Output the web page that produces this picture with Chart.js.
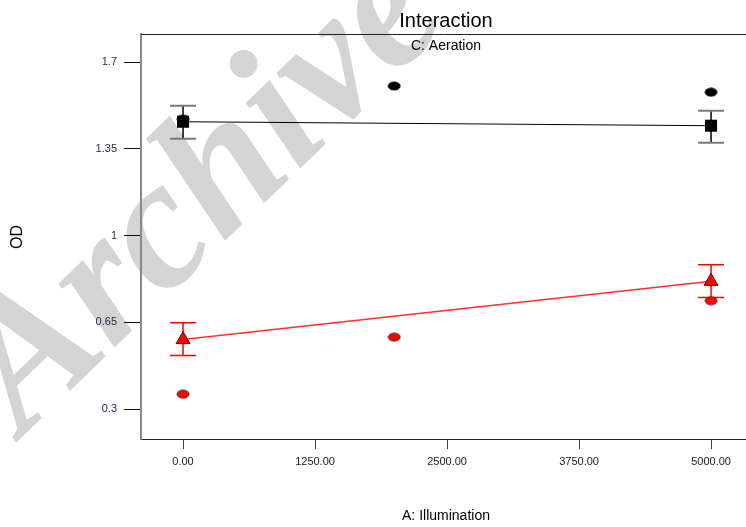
<!DOCTYPE html>
<html>
<head>
<meta charset="utf-8">
<script src="https://cdn.jsdelivr.net/npm/chart.js@4.4.1/dist/chart.umd.min.js"></script>
<style>
  html, body { margin: 0; padding: 0; background: #fff; }
  #wrap { width: 746px; height: 527px; position: relative; }
</style>
</head>
<body>
<div id="wrap"><canvas id="grafico"></canvas></div>
<script>
// tick values
const xTicks = [0, 1250, 2500, 3750, 5000];
const yTicks = [0.3, 0.65, 1, 1.35, 1.7];

// predicted means with intervals (A: Illumination at two levels)
const illum = [0, 5000];
const altaMedia = [1.459, 1.443];
const altaBajo = [1.390, 1.374];
const altaAlto = [1.524, 1.503];
const bajaMedia = [0.580, 0.815];
const bajaBajo = [0.516, 0.750];
const bajaAlto = [0.648, 0.882];

// observed design points
const disenoX = [0, 2000, 5000];
const altaObs = [1.47, 1.603, 1.578];
const bajaObs = [0.360, 0.590, 0.737];

function puntoElipse(relleno, borde) {
  const c = document.createElement('canvas');
  c.width = 14; c.height = 10;
  const g = c.getContext('2d');
  g.beginPath();
  g.ellipse(7, 5, 6, 4, 0, 0, Math.PI * 2);
  g.fillStyle = relleno;
  g.fill();
  g.lineWidth = 1;
  g.strokeStyle = borde;
  g.stroke();
  return c;
}

const pares = (xs, ys) => xs.map((x, i) => ({x: x, y: ys[i]}));

// watermark, titles and frame
const decoracion = {
  id: 'decoracion',
  beforeDraw(chart) {
    const ctx = chart.ctx;
    ctx.save();
    ctx.translate(23, 436);
    ctx.rotate(-44 * Math.PI / 180);
    ctx.font = 'bold italic 185px "Liberation Serif"';
    ctx.fillStyle = '#d4d4d4';
    ctx.textBaseline = 'alphabetic';
    ctx.fillText('Archive', 0, 0);
    ctx.restore();
  },
  afterDraw(chart) {
    const ctx = chart.ctx;
    const a = chart.chartArea;
    ctx.save();
    ctx.strokeStyle = '#222';
    ctx.lineWidth = 1;
    ctx.beginPath();
    ctx.moveTo(a.left, a.top + 0.5);
    ctx.lineTo(a.right, a.top + 0.5);
    ctx.stroke();

    ctx.fillStyle = '#000';
    ctx.textAlign = 'center';
    ctx.textBaseline = 'middle';
    ctx.font = '20px "Liberation Sans"';
    ctx.fillText('Interaction', 446, 21);
    ctx.font = '14px "Liberation Sans"';
    ctx.fillText('C: Aeration', 446, 46);
    ctx.fillText('A: Illumination', 446, 516);

    ctx.translate(18, 237);
    ctx.rotate(-Math.PI / 2);
    ctx.font = '16px "Liberation Sans"';
    ctx.fillText('OD', 0, 0);
    ctx.restore();
  }
};

// error bars from the interval arrays
const barrasError = {
  id: 'barrasError',
  beforeDatasetsDraw(chart) {
    const ctx = chart.ctx;
    const sx = chart.scales.x, sy = chart.scales.y;
    const dibujar = (bajo, alto, colorTallo, colorTope, anchoTope) => {
      illum.forEach((v, i) => {
        const px = sx.getPixelForValue(v);
        const y1 = sy.getPixelForValue(bajo[i]);
        const y2 = sy.getPixelForValue(alto[i]);
        ctx.strokeStyle = colorTallo;
        ctx.lineWidth = 1.5;
        ctx.beginPath();
        ctx.moveTo(px, y1); ctx.lineTo(px, y2);
        ctx.stroke();
        ctx.strokeStyle = colorTope;
        ctx.lineWidth = anchoTope;
        ctx.beginPath();
        ctx.moveTo(px - 13, y1); ctx.lineTo(px + 13, y1);
        ctx.moveTo(px - 13, y2); ctx.lineTo(px + 13, y2);
        ctx.stroke();
      });
    };
    ctx.save();
    dibujar(altaBajo, altaAlto, '#000', '#7a7a7a', 2);
    dibujar(bajaBajo, bajaAlto, '#ff0000', '#ff0000', 1.5);
    ctx.restore();
  }
};

new Chart(document.getElementById('grafico'), {
  type: 'scatter',
  data: {
    datasets: [
      {
        label: 'C+',
        type: 'line',
        data: pares(illum, altaMedia),
        borderColor: '#000',
        borderWidth: 1,
        pointStyle: 'rect',
        pointRadius: 8.5,
        pointBackgroundColor: '#000',
        pointBorderColor: '#000',
        pointBorderWidth: 0
      },
      {
        label: 'C-',
        type: 'line',
        data: pares(illum, bajaMedia),
        borderColor: '#ff3030',
        borderWidth: 1.5,
        pointStyle: 'triangle',
        pointRadius: 8,
        pointBackgroundColor: '#ff0000',
        pointBorderColor: '#600',
        pointBorderWidth: 1
      },
      {
        label: 'obs C+',
        data: pares(disenoX, altaObs),
        pointStyle: puntoElipse('#000', '#000'),
        pointRadius: 6
      },
      {
        label: 'obs C-',
        data: pares(disenoX, bajaObs),
        pointStyle: puntoElipse('#ff0000', '#5a2020'),
        pointRadius: 6
      }
    ]
  },
  options: {
    responsive: true,
    maintainAspectRatio: false,
    animation: false,
    events: [],
    layout: { autoPadding: false, padding: { top: 34, left: 0, right: 0, bottom: 0 } },
    plugins: {
      legend: { display: false },
      tooltip: { enabled: false }
    },
    scales: {
      x: {
        type: 'linear',
        min: -398,
        max: 5331,
        afterFit(scale) { scale.height = 88; },
        afterBuildTicks(scale) { scale.ticks = xTicks.map(v => ({value: v})); },
        grid: { drawOnChartArea: false, tickLength: 10, color: '#444', tickWidth: 1 },
        border: { color: '#222', width: 1 },
        ticks: {
          padding: 6,
          maxRotation: 0,
          color: '#222',
          font: { family: 'Liberation Sans', size: 11 },
          callback: v => Number(v).toFixed(2)
        }
      },
      y: {
        type: 'linear',
        min: 0.179,
        max: 1.813,
        afterFit(scale) { scale.width = 141; },
        afterBuildTicks(scale) { scale.ticks = yTicks.map(v => ({value: v})); },
        grid: { drawOnChartArea: false, tickLength: 17, color: '#111', tickWidth: 1 },
        border: { color: '#888', width: 2 },
        ticks: {
          padding: 7,
          color: '#2a2a48',
          font: { family: 'Liberation Sans', size: 11 },
          callback: v => String(v)
        }
      }
    }
  },
  plugins: [decoracion, barrasError]
});
</script>
</body>
</html>
